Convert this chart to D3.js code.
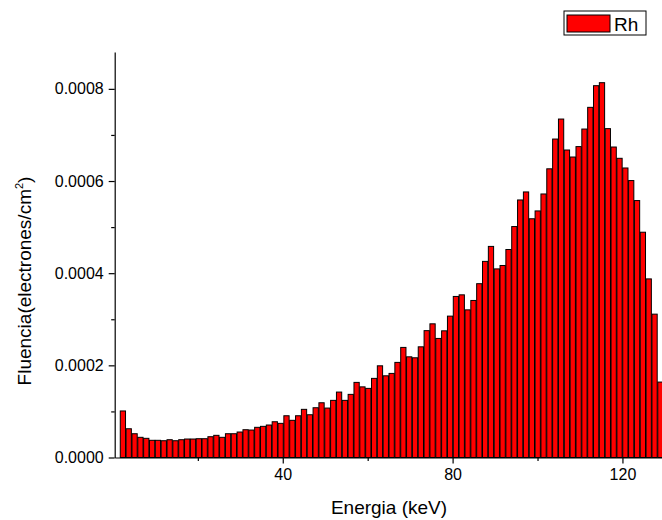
<!DOCTYPE html>
<html>
<head>
<meta charset="utf-8">
<script src="https://cdn.jsdelivr.net/npm/d3@7"></script>
<style>
  html, body { margin: 0; padding: 0; background: #fff; }
  svg { display: block; font-family: Arial, "Liberation Sans", sans-serif; }
</style>
</head>
<body>
<svg id="chart" width="662" height="520"></svg>
<script>
// Electron fluence spectrum for a Rh target, histogram of equal-width energy bins (keV)
const seriesName = "Rh";
const firstBinCenter = 2.35;   // keV
const binWidth = 1.376;        // keV
const fluence = [
  0.000101,
  0.0000624, 0.0000516, 0.0000438, 0.0000416, 0.0000373, 0.0000373, 0.0000364, 0.0000386, 0.0000364,
  0.0000386, 0.0000401, 0.0000401, 0.0000408, 0.0000408, 0.0000451, 0.0000481, 0.0000438, 0.0000516, 0.0000516,
  0.0000553, 0.0000603, 0.0000596, 0.0000655, 0.0000676, 0.0000705, 0.0000776, 0.0000741, 0.0000906, 0.0000807,
  0.0000906, 0.0001045, 0.0000928, 0.0001080, 0.0001188, 0.0001073, 0.0001240, 0.0001420, 0.0001240, 0.0001370,
  0.0001630, 0.0001533, 0.0001500, 0.0001717, 0.0001990, 0.0001773, 0.0001825, 0.0002064, 0.0002389, 0.0002185,
  0.0002164, 0.0002402, 0.0002753, 0.0002901, 0.0002584, 0.0002749, 0.0003068, 0.0003495, 0.0003530, 0.0003204,
  0.0003408, 0.0003772, 0.0004256, 0.0004581, 0.0004093, 0.0004167, 0.0004514, 0.0005012, 0.0005589, 0.0005763,
  0.0005181, 0.0005351, 0.0005719, 0.0006265, 0.0006911, 0.0007345, 0.0006673, 0.0006521, 0.0006747, 0.0007128,
  0.0007599, 0.0008069, 0.0008134, 0.0007137, 0.0006738, 0.0006493, 0.0006283, 0.0006010, 0.0005576, 0.0004889,
  0.0003876, 0.0003111, 0.0001637
];
const xMajorTicks = [40, 80, 120];
const xMinorTicks = [20, 60, 100];
const yMajorTicks = [0, 0.0002, 0.0004, 0.0006, 0.0008];
const yMinorTicks = [0.0001, 0.0003, 0.0005, 0.0007];
const xTitle = "Energia (keV)";

const bins = fluence.map((v, i) => ({ e: firstBinCenter + i * binWidth, v }));

const svg = d3.select("#chart");
const plotLeft = 114.7, plotBottom = 457.5, plotTop = 52, plotRight = 670;

const x = d3.scaleLinear().domain([0.42, 131.2]).range([plotLeft, plotRight]);
const y = d3.scaleLinear().domain([0, 0.00088]).range([plotBottom, plotTop]);

// bars
const pitch = x(binWidth) - x(0);
const barW = pitch * 0.9;
svg.append("g")
  .selectAll("rect")
  .data(bins)
  .join("rect")
  .attr("x", d => x(d.e) - barW / 2)
  .attr("y", d => y(d.v))
  .attr("width", barW)
  .attr("height", d => y(0) - y(d.v))
  .attr("fill", "#ff0000")
  .attr("stroke", "#000")
  .attr("stroke-width", 1);

// axes
const fontTick = 16;
svg.append("g").attr("transform", `translate(0,${plotBottom})`)
  .call(d3.axisBottom(x).tickValues(xMajorTicks).tickSize(6).tickSizeOuter(0).tickPadding(5));
svg.append("g").attr("transform", `translate(0,${plotBottom})`)
  .call(d3.axisBottom(x).tickValues(xMinorTicks).tickSize(3.5).tickSizeOuter(0).tickFormat(""))
  .call(g => g.select(".domain").remove());

svg.append("g").attr("transform", `translate(${plotLeft},0)`)
  .call(d3.axisLeft(y).tickValues(yMajorTicks).tickSize(6).tickSizeOuter(0).tickPadding(5)
    .tickFormat(d3.format(".4f")));
svg.append("g").attr("transform", `translate(${plotLeft},0)`)
  .call(d3.axisLeft(y).tickValues(yMinorTicks).tickSize(3.5).tickSizeOuter(0).tickFormat(""))
  .call(g => g.select(".domain").remove());

svg.selectAll(".domain, .tick line").attr("stroke", "#000").attr("stroke-width", 1.2);
svg.selectAll(".tick text")
  .attr("fill", "#000")
  .style("font-family", "Arial, 'Liberation Sans', sans-serif")
  .style("font-size", fontTick + "px");

// axis titles
svg.append("text")
  .attr("x", 389).attr("y", 514)
  .attr("text-anchor", "middle")
  .style("font-size", "19px")
  .text(xTitle);

const yTitle = svg.append("text")
  .attr("transform", "translate(31,281) rotate(-90)")
  .attr("text-anchor", "middle")
  .style("font-size", "19px");
yTitle.append("tspan").text("Fluencia(electrones/cm");
yTitle.append("tspan").attr("dy", -8).style("font-size", "11px").text("2");
yTitle.append("tspan").attr("dy", 8).text(")");

// legend
const lg = svg.append("g");
lg.append("rect").attr("x", 564).attr("y", 11).attr("width", 82).attr("height", 24)
  .attr("fill", "#fff").attr("stroke", "#000").attr("stroke-width", 1);
lg.append("rect").attr("x", 567).attr("y", 15).attr("width", 43).attr("height", 17)
  .attr("fill", "#ff0000").attr("stroke", "#000").attr("stroke-width", 1);
lg.append("text").attr("x", 614).attr("y", 31)
  .style("font-size", "19px").text(seriesName);
</script>
</body>
</html>
